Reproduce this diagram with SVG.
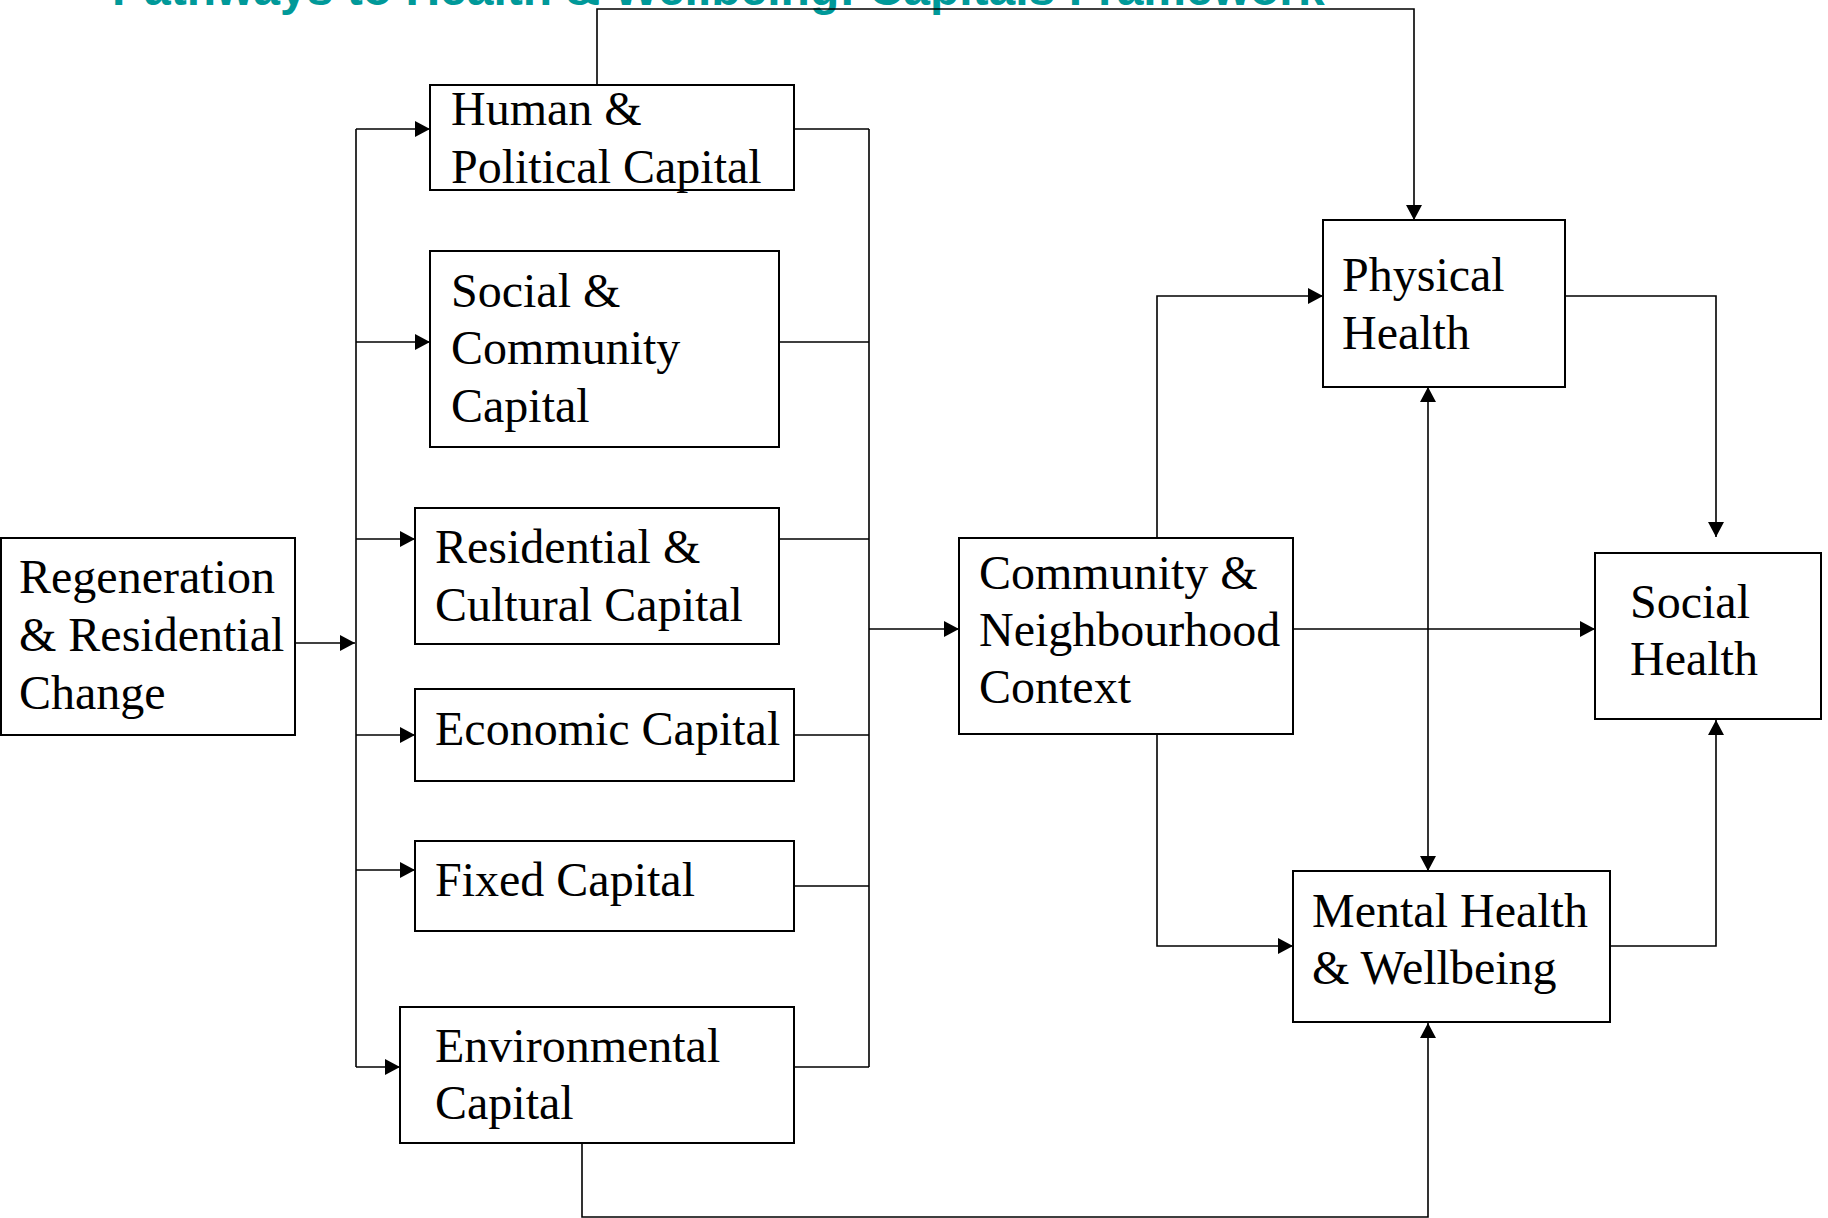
<svg xmlns="http://www.w3.org/2000/svg" width="1828" height="1218" viewBox="0 0 1828 1218">
<style>
.box{fill:#fff;stroke:#000;stroke-width:2}
.t{font-family:"Liberation Serif","Times New Roman",serif;font-size:48px;fill:#000}
.c{fill:none;stroke:#000;stroke-width:1.6}
.title{font-family:"Liberation Sans",Arial,sans-serif;font-weight:bold;font-size:48px;fill:#009999}
</style>
<defs>
<marker id="ah" markerUnits="userSpaceOnUse" markerWidth="15" markerHeight="16" refX="15" refY="8" orient="auto-start-reverse" viewBox="0 0 15 16">
<path d="M0,0 L15,8 L0,16 z" fill="#000"/>
</marker>
</defs>
<rect width="1828" height="1218" fill="#fff"/>
<text class="title" x="112" y="5">Pathways to Health &amp; Wellbeing: Capitals Framework</text>
<g id="connectors">
<path class="c" d="M295,643 L355,643" marker-end="url(#ah)"/>
<path class="c" d="M356,129 L356,1067"/>
<path class="c" d="M356,129 L430,129" marker-end="url(#ah)"/>
<path class="c" d="M356,342 L430,342" marker-end="url(#ah)"/>
<path class="c" d="M356,539 L415,539" marker-end="url(#ah)"/>
<path class="c" d="M356,735 L415,735" marker-end="url(#ah)"/>
<path class="c" d="M356,870 L415,870" marker-end="url(#ah)"/>
<path class="c" d="M356,1067 L400,1067" marker-end="url(#ah)"/>
<path class="c" d="M794,129 L869,129 M779,342 L869,342 M779,539 L869,539 M794,735 L869,735 M794,886 L869,886 M794,1067 L869,1067 M869,129 L869,1067"/>
<path class="c" d="M869,629 L959,629" marker-end="url(#ah)"/>
<path class="c" d="M597,85 L597,9 L1414,9 L1414,220" marker-end="url(#ah)"/>
<path class="c" d="M1157,538 L1157,296 L1323,296" marker-end="url(#ah)"/>
<path class="c" d="M1565,296 L1716,296 L1716,537" marker-end="url(#ah)"/>
<path class="c" d="M1293,629 L1595,629" marker-end="url(#ah)"/>
<path class="c" d="M1428,387 L1428,871" marker-start="url(#ah)" marker-end="url(#ah)"/>
<path class="c" d="M1157,735 L1157,946 L1293,946" marker-end="url(#ah)"/>
<path class="c" d="M1610,946 L1716,946 L1716,720" marker-end="url(#ah)"/>
<path class="c" d="M582,1143 L582,1217 L1428,1217 L1428,1023" marker-end="url(#ah)"/>
</g>
<g id="human">
<rect class="box" x="430" y="85" width="364" height="105"/>
<text class="t" x="451" y="125">Human &amp;</text>
<text class="t" x="451" y="183">Political Capital</text>
</g>
<g id="social-capital">
<rect class="box" x="430" y="251" width="349" height="196"/>
<text class="t" x="451" y="307">Social &amp;</text>
<text class="t" x="451" y="364">Community</text>
<text class="t" x="451" y="422">Capital</text>
</g>
<g id="residential">
<rect class="box" x="415" y="508" width="364" height="136"/>
<text class="t" x="435" y="563">Residential &amp;</text>
<text class="t" x="435" y="621">Cultural Capital</text>
</g>
<g id="economic">
<rect class="box" x="415" y="689" width="379" height="92"/>
<text class="t" x="435" y="745">Economic Capital</text>
</g>
<g id="fixed">
<rect class="box" x="415" y="841" width="379" height="90"/>
<text class="t" x="435" y="896">Fixed Capital</text>
</g>
<g id="environmental">
<rect class="box" x="400" y="1007" width="394" height="136"/>
<text class="t" x="435" y="1062">Environmental</text>
<text class="t" x="435" y="1119">Capital</text>
</g>
<g id="regeneration">
<rect class="box" x="1" y="538" width="294" height="197"/>
<text class="t" x="19" y="593">Regeneration</text>
<text class="t" x="19" y="651">&amp; Residential</text>
<text class="t" x="19" y="709">Change</text>
</g>
<g id="community">
<rect class="box" x="959" y="538" width="334" height="196"/>
<text class="t" x="979" y="589">Community &amp;</text>
<text class="t" x="979" y="646">Neighbourhood</text>
<text class="t" x="979" y="703">Context</text>
</g>
<g id="physical">
<rect class="box" x="1323" y="220" width="242" height="167"/>
<text class="t" x="1342" y="291">Physical</text>
<text class="t" x="1342" y="349">Health</text>
</g>
<g id="social-health">
<rect class="box" x="1595" y="553" width="226" height="166"/>
<text class="t" x="1630" y="618">Social</text>
<text class="t" x="1630" y="675">Health</text>
</g>
<g id="mental">
<rect class="box" x="1293" y="871" width="317" height="151"/>
<text class="t" x="1312" y="927">Mental Health</text>
<text class="t" x="1312" y="984">&amp; Wellbeing</text>
</g>
</svg>
